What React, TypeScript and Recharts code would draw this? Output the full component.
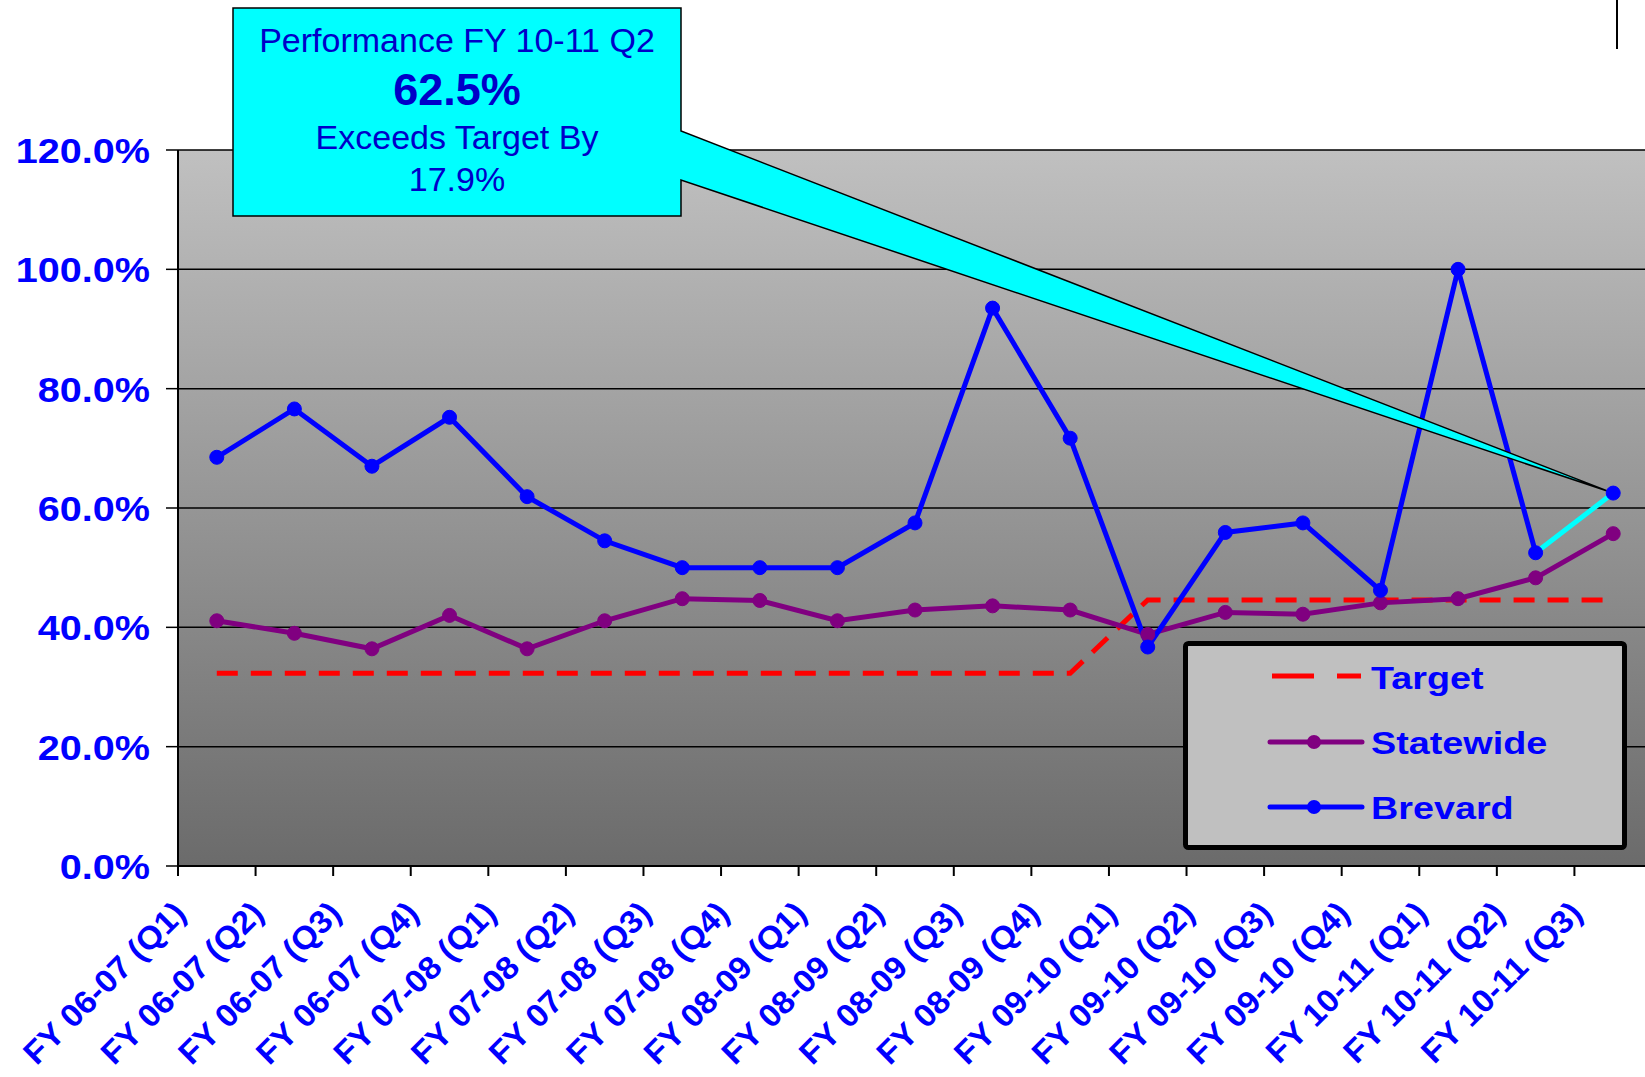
import { LineChart, Line, XAxis, YAxis, CartesianGrid, Legend, ReferenceDot } from "recharts"

// quarters on the x axis
const quarters = [
  "FY 06-07 (Q1)", "FY 06-07 (Q2)", "FY 06-07 (Q3)", "FY 06-07 (Q4)",
  "FY 07-08 (Q1)", "FY 07-08 (Q2)", "FY 07-08 (Q3)", "FY 07-08 (Q4)",
  "FY 08-09 (Q1)", "FY 08-09 (Q2)", "FY 08-09 (Q3)", "FY 08-09 (Q4)",
  "FY 09-10 (Q1)", "FY 09-10 (Q2)", "FY 09-10 (Q3)", "FY 09-10 (Q4)",
  "FY 10-11 (Q1)", "FY 10-11 (Q2)", "FY 10-11 (Q3)",
]

const brevard = [68.5, 76.6, 67.0, 75.2, 61.9, 54.5, 50.0, 50.0, 50.0, 57.5, 93.5, 71.7, 36.7, 55.9, 57.5, 46.2, 100.0, 52.5, 62.5]
const statewide = [41.1, 39.0, 36.4, 42.0, 36.4, 41.1, 44.8, 44.5, 41.1, 42.9, 43.6, 42.9, 38.8, 42.5, 42.2, 44.1, 44.8, 48.3, 55.7]
const target = [32.3, 32.3, 32.3, 32.3, 32.3, 32.3, 32.3, 32.3, 32.3, 32.3, 32.3, 32.3, 44.6, 44.6, 44.6, 44.6, 44.6, 44.6, 44.6]

const yTicks = [0, 20, 40, 60, 80, 100, 120]

const calloutLines = ["Performance FY 10-11 Q2", "62.5%", "Exceeds Target By", "17.9%"]

const last = quarters.length - 1
const data = quarters.map((q, i) => ({
  quarter: q,
  target: target[i],
  statewide: statewide[i],
  brevard: i < last ? brevard[i] : null,
  brevardTail: i >= last - 1 ? brevard[i] : null,
}))

const CHART_W = 1680
const CHART_H = 1077
const PLOT_LEFT = 178
const PLOT_RIGHT = 1652
const PLOT_TOP = 150
const PLOT_BOTTOM = 866
const HALF_BAND = (PLOT_RIGHT - PLOT_LEFT) / quarters.length / 2

const FONT = "'Liberation Sans', Arial, sans-serif"
const BLUE = "#0000ff"

function XTick(props: any) {
  const { x, y, payload } = props
  return (
    <g transform={`translate(${x},${y})`}>
      <line x1={-HALF_BAND} x2={-HALF_BAND} y1={0} y2={10} stroke="#000" strokeWidth={2} />
      <text
        transform="translate(-29,49) rotate(-45) scale(1.05,1)"
        textAnchor="end"
        fill={BLUE}
        fontSize={32}
        fontWeight="bold"
        fontFamily={FONT}
      >
        {payload.value}
      </text>
    </g>
  )
}

function YTick(props: any) {
  const { x, y, payload } = props
  return (
    <text
      transform={`translate(${x},${y}) scale(1.1,1)`}
      dy="0.36em"
      textAnchor="end"
      fill={BLUE}
      fontSize={36}
      fontWeight="bold"
      fontFamily={FONT}
    >
      {`${payload.value.toFixed(1)}%`}
    </text>
  )
}

function Callout(props: any) {
  const { cx, cy } = props
  const d = `M233,8 H681 V131 L${cx},${cy} L681,180 V216 H233 Z`
  const tx = 457
  return (
    <g>
      <path d={d} fill="#00ffff" stroke="#000" strokeWidth={1.5} strokeLinejoin="miter" />
      <text x={tx} y={52} textAnchor="middle" fill="#0000c8" fontSize={34} fontFamily={FONT}>{calloutLines[0]}</text>
      <text x={tx} y={105} textAnchor="middle" fill="#0000c8" fontSize={45} fontWeight="bold" fontFamily={FONT}>{calloutLines[1]}</text>
      <text x={tx} y={149} textAnchor="middle" fill="#0000c8" fontSize={34} fontFamily={FONT}>{calloutLines[2]}</text>
      <text x={tx} y={191} textAnchor="middle" fill="#0000c8" fontSize={34} fontFamily={FONT}>{calloutLines[3]}</text>
    </g>
  )
}

function LegendBox() {
  const rows = [
    { name: "Target", color: "#ff0000", dashed: true, y: 35, ty: 48 },
    { name: "Statewide", color: "#800080", dashed: false, y: 101, ty: 113 },
    { name: "Brevard", color: "#0000ff", dashed: false, y: 166, ty: 178 },
  ]
  return (
    <svg width={444} height={209} style={{ display: "block" }}>
      <rect x={2.5} y={2.5} width={439} height={204} rx={3} fill="#c0c0c0" stroke="#000" strokeWidth={5} />
      {rows.map((r) => (
        <g key={r.name}>
          {r.dashed ? (
            <line x1={89} x2={178} y1={r.y} y2={r.y} stroke={r.color} strokeWidth={5} strokeDasharray="42 23" />
          ) : (
            <g>
              <line x1={87} x2={179} y1={r.y} y2={r.y} stroke={r.color} strokeWidth={5} strokeLinecap="round" />
              <circle cx={131} cy={r.y} r={7} fill={r.color} />
            </g>
          )}
          <text
            transform={`translate(188,${r.ty}) scale(1.18,1)`}
            fill={BLUE}
            fontSize={32}
            fontWeight="bold"
            fontFamily={FONT}
          >
            {r.name}
          </text>
        </g>
      ))}
    </svg>
  )
}

export default function App() {
  return (
    <div
      style={{
        position: "fixed",
        left: 0,
        top: 0,
        width: 1645,
        height: 1077,
        overflow: "hidden",
        background: "#fff",
      }}
    >
      <LineChart
        width={CHART_W}
        height={CHART_H}
        data={data}
        margin={{ top: PLOT_TOP, right: CHART_W - PLOT_RIGHT, bottom: 0, left: 0 }}
      >
        <defs>
          <linearGradient id="plotBg" x1="0" y1="0" x2="0" y2="1">
            <stop offset="0%" stopColor="#c0c0c0" />
            <stop offset="100%" stopColor="#6b6b6b" />
          </linearGradient>
        </defs>
        <CartesianGrid vertical={false} stroke="#000" strokeWidth={1.5} fill="url(#plotBg)" fillOpacity={1} />
        <XAxis
          dataKey="quarter"
          height={CHART_H - PLOT_BOTTOM}
          padding={{ left: HALF_BAND, right: HALF_BAND }}
          interval={0}
          tickSize={0}
          tickMargin={0}
          tickLine={false}
          axisLine={{ stroke: "#000", strokeWidth: 2 }}
          tick={<XTick />}
        />
        <YAxis
          width={PLOT_LEFT}
          domain={[0, 120]}
          ticks={yTicks}
          interval={0}
          tickSize={12}
          tickMargin={16}
          tickLine={{ stroke: "#000", strokeWidth: 1.5 }}
          axisLine={{ stroke: "#000", strokeWidth: 2 }}
          tick={<YTick />}
        />
        <Legend
          layout="horizontal"
          verticalAlign="middle"
          align="center"
          content={() => <LegendBox />}
          wrapperStyle={{ left: 1183, top: 641, width: 444, height: 209, margin: 0 }}
        />
        <Line
          type="linear"
          dataKey="target"
          stroke="#ff0000"
          strokeWidth={5}
          strokeDasharray="21 13"
          dot={false}
          activeDot={false}
          isAnimationActive={false}
        />
        <Line
          type="linear"
          dataKey="statewide"
          stroke="#800080"
          strokeWidth={5}
          dot={{ r: 7, fill: "#800080", stroke: "#800080", strokeWidth: 1 }}
          activeDot={false}
          isAnimationActive={false}
        />
        <Line
          type="linear"
          dataKey="brevardTail"
          stroke="#00ffff"
          strokeWidth={5}
          dot={(p: any) =>
            p.index === last && p.cy != null ? (
              <circle key={`tail-${p.index}`} cx={p.cx} cy={p.cy} r={7} fill="#0000ff" stroke="#0000ff" strokeWidth={1} />
            ) : (
              <g key={`tail-${p.index}`} />
            )
          }
          activeDot={false}
          isAnimationActive={false}
        />
        <Line
          type="linear"
          dataKey="brevard"
          stroke="#0000ff"
          strokeWidth={5}
          dot={{ r: 7, fill: "#0000ff", stroke: "#0000ff", strokeWidth: 1 }}
          activeDot={false}
          isAnimationActive={false}
        />
        <ReferenceDot x={quarters[last]} y={brevard[last]} r={0} shape={(p: any) => <Callout {...p} />} />
      </LineChart>
      <div style={{ position: "absolute", left: 1616, top: 0, width: 2, height: 49, background: "#000" }} />
    </div>
  )
}
